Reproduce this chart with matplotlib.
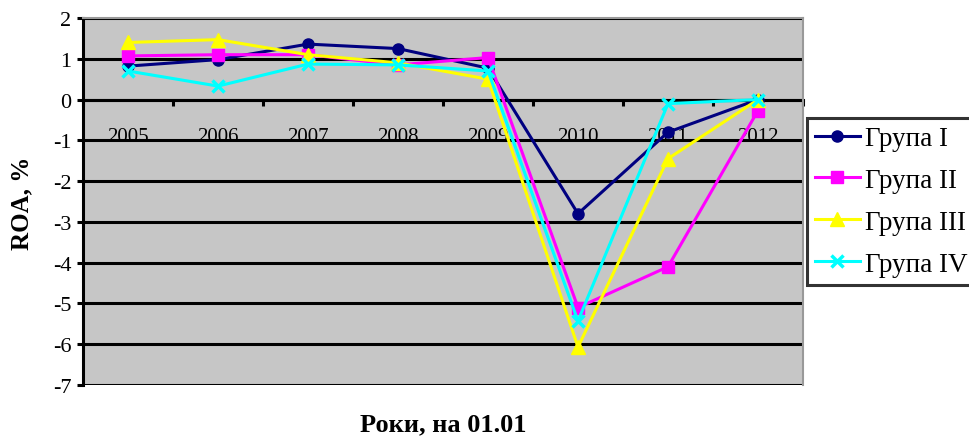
import matplotlib
matplotlib.use("Agg")
import matplotlib.pyplot as plt
import numpy as np

years = ["2005", "2006", "2007", "2008", "2009", "2010", "2011", "2012"]
group1 = [0.82, 0.98, 1.36, 1.25, 0.77, -2.8, -0.8, 0.0]
group2 = [1.07, 1.1, 1.1, 0.85, 1.03, -5.1, -4.1, -0.27]
group3 = [1.4, 1.47, 1.1, 0.9, 0.5, -6.07, -1.45, 0.0]
group4 = [0.7, 0.33, 0.87, 0.85, 0.7, -5.43, -0.1, 0.0]
labels = ["Група I", "Група II", "Група III", "Група IV"]
yticks = [-7, -6, -5, -4, -3, -2, -1, 0, 1, 2]

plt.rcParams['font.family'] = ['Liberation Serif', 'DejaVu Serif']

fig = plt.figure(figsize=(9.7, 4.39), dpi=100)
ax = fig.add_axes([83/970, 1-386/439, 720/970, 367/439])
ax.set_facecolor('#c6c6c6')

x = np.arange(len(years))
styles = [
    dict(color='#000080', marker='o', markersize=8),
    dict(color='#ff00ff', marker='s', markersize=9),
    dict(color='#ffff00', marker='^', markersize=10),
    dict(color='#00ffff', marker='x', markersize=9, markeredgewidth=2.5),
]
for data, lab, st in zip([group1, group2, group3, group4], labels, styles):
    ax.plot(x, data, linewidth=2.2, label=lab, zorder=3, **st)

ax.set_xlim(-0.5, len(years) - 0.5)
ax.set_ylim(-7, 2)
ax.set_yticks(yticks)
ax.set_yticklabels([str(v) for v in yticks], fontsize=16)
ax.yaxis.grid(True, color='black', linewidth=2.2, zorder=1)
ax.set_axisbelow(True)

# x axis at zero
ax.spines['bottom'].set_position(('data', 0))
ax.spines['bottom'].set_linewidth(2.2)
ax.spines['bottom'].set_zorder(2)
ax.spines['left'].set_linewidth(2.2)
ax.spines['top'].set_color('#999999')
ax.spines['right'].set_color('#999999')
ax.spines['top'].set_linewidth(1.5)
ax.spines['right'].set_linewidth(1.5)

ax.set_xticks(np.arange(-0.5, len(years), 1.0))
ax.set_xticklabels([])
ax.tick_params(axis='x', which='major', direction='out', length=4.5, width=2.2)
ax.set_xticks(x, minor=True)
ax.set_xticklabels(years, minor=True, fontsize=15)
ax.tick_params(axis='x', which='minor', length=0, pad=20)
ax.tick_params(axis='y', direction='out', length=4.5, width=2.2, pad=4)

fig.text(443/970, 1-425/439, "Роки, на 01.01", ha='center', va='center',
         fontsize=19, fontweight='bold')
fig.text(22/970, 1-203/439, "ROA, %", ha='center', va='center', rotation=90,
         fontsize=18, fontweight='bold')

leg = fig.legend(loc='upper left', bbox_to_anchor=(807/970, 1-119/439),
                 fontsize=19.5, frameon=True, fancybox=False, handlelength=1.65,
                 handletextpad=0.2, labelspacing=0.62, borderpad=0.3,
                 borderaxespad=0)
leg.get_frame().set_edgecolor('black')
leg.get_frame().set_linewidth(2.2)

fig.savefig("out.png", dpi=100)
